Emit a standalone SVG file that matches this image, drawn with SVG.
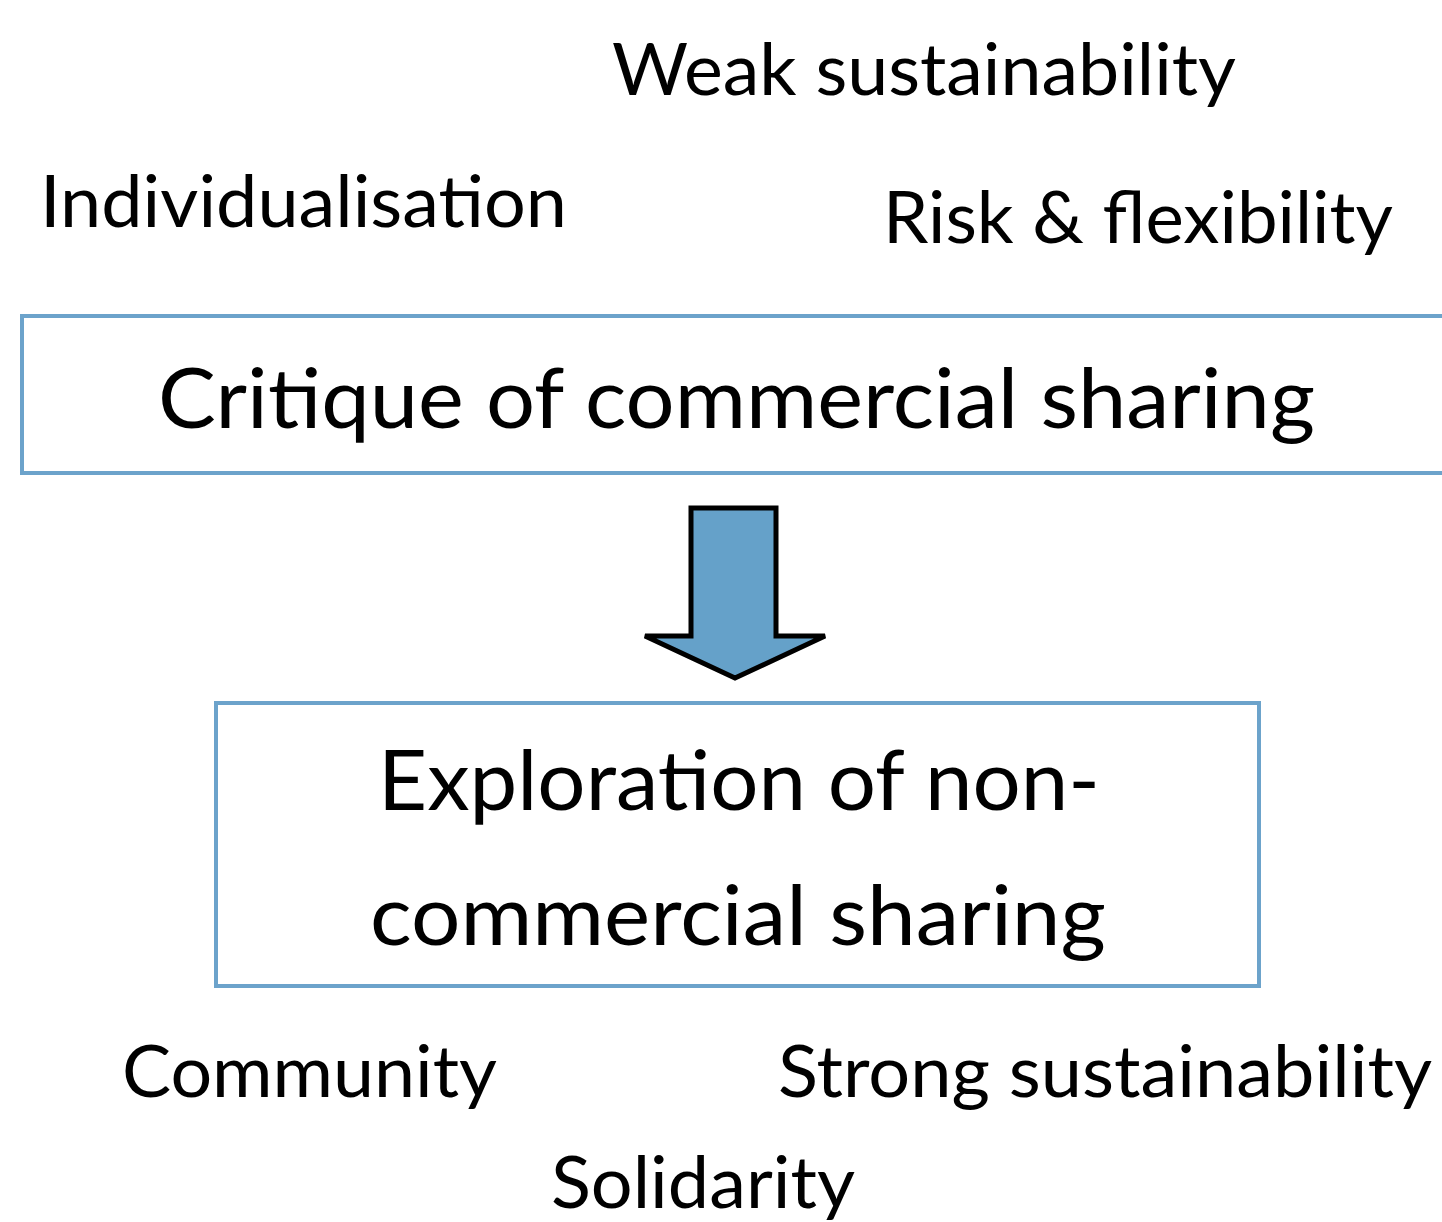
<svg xmlns="http://www.w3.org/2000/svg" width="1442" height="1222" viewBox="0 0 1442 1222">
  <style>
    .lbl { font-family: Lato, "Open Sans", "Liberation Sans", sans-serif; fill: #000; }
    .small { font-size: 71px; }
    .big { font-size: 84px; }
    .box { fill: #fff; stroke: #6CA3CB; stroke-width: 4; }
  </style>
  <rect width="1442" height="1222" fill="#fff"/>

  <!-- keyword labels around the boxes -->
  <g id="weak-sustainability">
    <text class="lbl small" x="612" y="95" textLength="624" lengthAdjust="spacingAndGlyphs">Weak sustainability</text>
  </g>
  <g id="individualisation">
    <text class="lbl small" x="40" y="227" textLength="527" lengthAdjust="spacingAndGlyphs">Individualisation</text>
  </g>
  <g id="risk-flexibility">
    <text class="lbl small" x="883" y="243" textLength="510" lengthAdjust="spacingAndGlyphs">Risk &amp; flexibility</text>
  </g>

  <!-- top box -->
  <g id="critique">
    <rect class="box" x="22" y="316" width="1440" height="157"/>
    <text class="lbl big" x="158" y="428" textLength="1157" lengthAdjust="spacingAndGlyphs">Critique of commercial sharing</text>
  </g>

  <!-- block arrow between boxes -->
  <g id="connectors">
    <path d="M691,508 L776,508 L776,636 L825,636 L735,678 L645,636 L691,636 Z" fill="#65A1C9" stroke="#000" stroke-width="5" stroke-linejoin="miter"/>
  </g>

  <!-- bottom box -->
  <g id="exploration">
    <rect class="box" x="216" y="703" width="1043" height="283"/>
    <text class="lbl big" x="378" y="810" textLength="722" lengthAdjust="spacingAndGlyphs">Exploration of non-</text>
    <text class="lbl big" x="370" y="945" textLength="736" lengthAdjust="spacingAndGlyphs">commercial sharing</text>
  </g>

  <g id="community">
    <text class="lbl small" x="122" y="1097" textLength="375" lengthAdjust="spacingAndGlyphs">Community</text>
  </g>
  <g id="strong-sustainability">
    <text class="lbl small" x="778" y="1097" textLength="654" lengthAdjust="spacingAndGlyphs">Strong sustainability</text>
  </g>
  <g id="solidarity">
    <text class="lbl small" x="551" y="1208" textLength="304" lengthAdjust="spacingAndGlyphs">Solidarity</text>
  </g>
</svg>
